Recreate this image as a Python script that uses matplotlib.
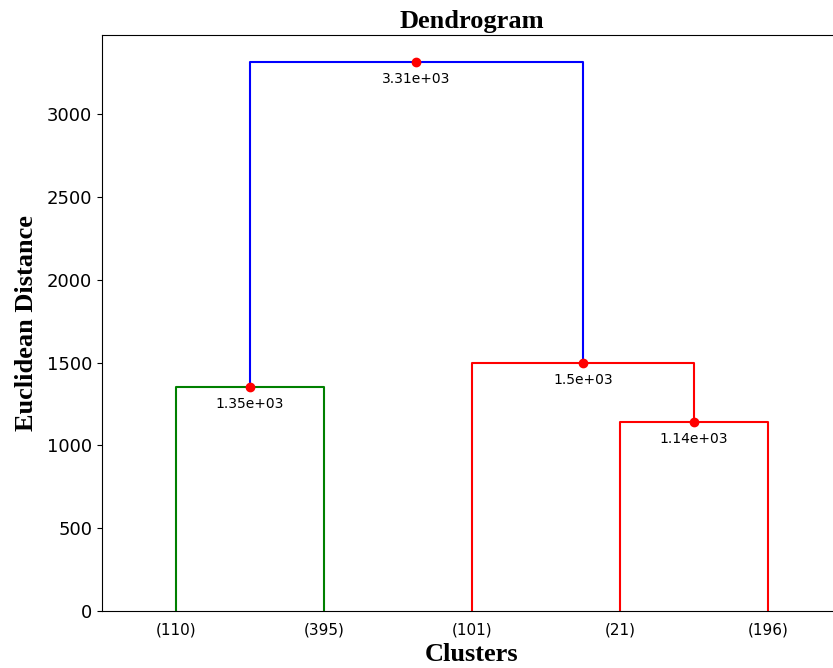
import matplotlib
matplotlib.use('Agg')
import matplotlib.pyplot as plt

# leaf labels (cluster sizes) and the merges: (left node, right node, distance)
leaf_labels = ['(110)', '(395)', '(101)', '(21)', '(196)']
merges = [(0, 1, 1352), (3, 4, 1142), (2, 6, 1497), (5, 7, 3312)]
link_colors = ['g', 'r', 'r', 'b']

fig = plt.figure(figsize=(8.33, 6.68), dpi=100)
ax = fig.add_axes([0.1224, 0.0853, 0.888, 0.8623])

# x positions of the leaves follow scipy's 5, 15, 25 ... layout
node_x = [5 + 10 * i for i in range(len(leaf_labels))]
node_y = [0] * len(leaf_labels)

for (a, b, h), c in zip(merges, link_colors):
    xa, xb = node_x[a], node_x[b]
    ya, yb = node_y[a], node_y[b]
    ax.plot([xa, xa, xb, xb], [ya, h, h, yb], color=c, lw=1.5)
    node_x.append((xa + xb) / 2)
    node_y.append(h)

for (a, b, h) in merges:
    x = (node_x[a] + node_x[b]) / 2
    ax.plot(x, h, 'ro')
    ax.annotate('%.3g' % h, (x, h), xytext=(0, -7), textcoords='offset points',
                va='top', ha='center', fontsize=10)

ax.set_xlim(0, 10 * len(leaf_labels))
ax.set_ylim(0, max(h for _, _, h in merges) * 1.05)
ax.set_xticks([5 + 10 * i for i in range(len(leaf_labels))])
ax.set_xticklabels(leaf_labels, fontsize=11)
ax.tick_params(axis='x', length=0, pad=8)
ax.tick_params(axis='y', labelsize=13)

ax.set_title('Dendrogram', fontsize=19, fontweight='bold', family='Liberation Serif', pad=5)
ax.set_xlabel('Clusters', fontsize=19, fontweight='bold', family='Liberation Serif', labelpad=4)
ax.set_ylabel('Euclidean Distance', fontsize=19, fontweight='bold', family='Liberation Serif', labelpad=6)

fig.savefig('out.png', dpi=100)
